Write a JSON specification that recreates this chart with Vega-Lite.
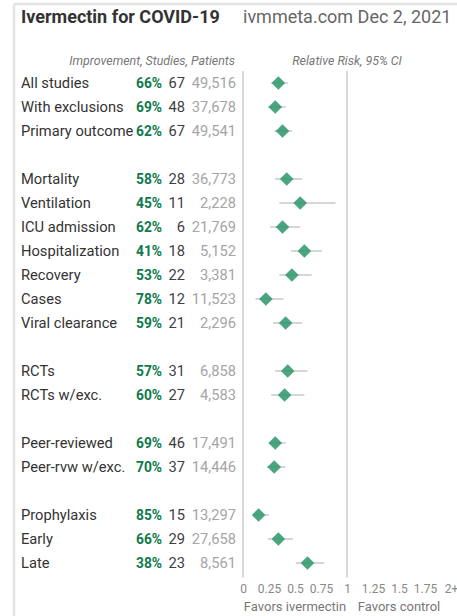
{
  "$schema": "https://vega.github.io/schema/vega-lite/v6.json",
  "width": 208,
  "height": 504,
  "autosize": {"type": "none"},
  "padding": {"left": 243, "top": 71, "right": 6, "bottom": 41},
  "background": "white",
  "config": {
    "view": {"stroke": null},
    "font": "Roboto",
    "axisX": {"grid": false, "domain": false, "ticks": false, "tickSize": 0, "labelPadding": 8, "labelFont": "Roboto", "labelFontSize": 12, "labelColor": "#888888", "labelFlush": false, "labelOverlap": false, "labelBound": false, "title": null}
  },
  "data": {
    "values": [
      {"label": "All studies", "pct": "66%", "studies": 67, "patients": 49516, "rr": 0.34, "lo": 0.27, "hi": 0.43, "row": 0},
      {"label": "With exclusions", "pct": "69%", "studies": 48, "patients": 37678, "rr": 0.31, "lo": 0.24, "hi": 0.41, "row": 1},
      {"label": "Primary outcome", "pct": "62%", "studies": 67, "patients": 49541, "rr": 0.38, "lo": 0.30, "hi": 0.47, "row": 2},
      {"label": "Mortality", "pct": "58%", "studies": 28, "patients": 36773, "rr": 0.42, "lo": 0.31, "hi": 0.57, "row": 4},
      {"label": "Ventilation", "pct": "45%", "studies": 11, "patients": 2228, "rr": 0.55, "lo": 0.35, "hi": 0.89, "row": 5},
      {"label": "ICU admission", "pct": "62%", "studies": 6, "patients": 21769, "rr": 0.38, "lo": 0.26, "hi": 0.55, "row": 6},
      {"label": "Hospitalization", "pct": "41%", "studies": 18, "patients": 5152, "rr": 0.59, "lo": 0.46, "hi": 0.76, "row": 7},
      {"label": "Recovery", "pct": "53%", "studies": 22, "patients": 3381, "rr": 0.47, "lo": 0.35, "hi": 0.66, "row": 8},
      {"label": "Cases", "pct": "78%", "studies": 12, "patients": 11523, "rr": 0.22, "lo": 0.12, "hi": 0.39, "row": 9},
      {"label": "Viral clearance", "pct": "59%", "studies": 21, "patients": 2296, "rr": 0.41, "lo": 0.29, "hi": 0.57, "row": 10},
      {"label": "RCTs", "pct": "57%", "studies": 31, "patients": 6858, "rr": 0.43, "lo": 0.31, "hi": 0.62, "row": 12},
      {"label": "RCTs w/exc.", "pct": "60%", "studies": 27, "patients": 4583, "rr": 0.40, "lo": 0.27, "hi": 0.59, "row": 13},
      {"label": "Peer-reviewed", "pct": "69%", "studies": 46, "patients": 17491, "rr": 0.31, "lo": 0.25, "hi": 0.41, "row": 15},
      {"label": "Peer-rvw w/exc.", "pct": "70%", "studies": 37, "patients": 14446, "rr": 0.30, "lo": 0.23, "hi": 0.41, "row": 16},
      {"label": "Prophylaxis", "pct": "85%", "studies": 15, "patients": 13297, "rr": 0.15, "lo": 0.10, "hi": 0.25, "row": 18},
      {"label": "Early", "pct": "66%", "studies": 29, "patients": 27658, "rr": 0.34, "lo": 0.24, "hi": 0.48, "row": 19},
      {"label": "Late", "pct": "38%", "studies": 23, "patients": 8561, "rr": 0.62, "lo": 0.51, "hi": 0.78, "row": 20}
    ]
  },
  "layer": [
    {
      "mark": {"type": "rule", "color": "#cccccc", "strokeWidth": 1.5},
      "data": {"values": [{"v": 0}, {"v": 1}]},
      "encoding": {
        "x": {"field": "v", "type": "quantitative", "scale": {"domain": [0, 2], "nice": false, "zero": false},
          "axis": {"values": [0, 0.25, 0.5, 0.75, 1, 1.25, 1.5, 1.75, 2], "labelExpr": "datum.value == 2 ? '2+' : '' + datum.value", "labelOverlap": false}},
        "y": {"datum": -0.5, "type": "quantitative", "scale": {"domain": [-0.5, 20.5], "reverse": true, "nice": false, "zero": false}, "axis": null},
        "y2": {"datum": 20.6}
      }
    },
    {
      "mark": {"type": "rule", "color": "#e2e2e2", "strokeWidth": 2.5},
      "data": {"values": [{"a": 1}]},
      "encoding": {
        "x": {"datum": -2.2019, "type": "quantitative", "axis": {"values": [0, 0.25, 0.5, 0.75, 1, 1.25, 1.5, 1.75, 2], "labelExpr": "datum.value == 2 ? '2+' : '' + datum.value", "labelOverlap": false}},
        "x2": {"datum": 2.2},
        "y": {"datum": -3.29, "type": "quantitative"}
      }
    },
    {
      "mark": {"type": "rule", "color": "#e2e2e2", "strokeWidth": 2.5},
      "data": {"values": [{"a": 1}]},
      "encoding": {
        "x": {"datum": -2.2019, "type": "quantitative", "axis": {"values": [0, 0.25, 0.5, 0.75, 1, 1.25, 1.5, 1.75, 2], "labelExpr": "datum.value == 2 ? '2+' : '' + datum.value", "labelOverlap": false}},
        "y": {"datum": -3.29, "type": "quantitative"},
        "y2": {"datum": 22.5}
      }
    },
    {
      "mark": {"type": "rule", "color": "#c8c8c8", "strokeWidth": 1.5},
      "encoding": {
        "x": {"field": "lo", "type": "quantitative", "axis": {"values": [0, 0.25, 0.5, 0.75, 1, 1.25, 1.5, 1.75, 2], "labelExpr": "datum.value == 2 ? '2+' : '' + datum.value", "labelOverlap": false}},
        "x2": {"field": "hi"},
        "y": {"field": "row", "type": "quantitative"}
      }
    },
    {
      "mark": {"type": "point", "shape": "diamond", "filled": true, "size": 185, "color": "#329870", "opacity": 0.88},
      "encoding": {
        "x": {"field": "rr", "type": "quantitative", "axis": {"values": [0, 0.25, 0.5, 0.75, 1, 1.25, 1.5, 1.75, 2], "labelExpr": "datum.value == 2 ? '2+' : '' + datum.value", "labelOverlap": false}},
        "y": {"field": "row", "type": "quantitative"}
      }
    },
    {
      "mark": {"type": "text", "align": "left", "baseline": "middle", "dy": 1, "font": "Roboto", "fontSize": 14.7, "color": "#333333"},
      "encoding": {"x": {"datum": -2.1346, "type": "quantitative", "axis": {"values": [0, 0.25, 0.5, 0.75, 1, 1.25, 1.5, 1.75, 2], "labelExpr": "datum.value == 2 ? '2+' : '' + datum.value", "labelOverlap": false}}, "y": {"field": "row", "type": "quantitative"}, "text": {"field": "label"}}
    },
    {
      "mark": {"type": "text", "align": "right", "baseline": "middle", "dy": 1, "font": "Roboto", "fontSize": 13.8, "fontWeight": "bold", "color": "#0f7a4a"},
      "encoding": {"x": {"datum": -0.7788, "type": "quantitative", "axis": {"values": [0, 0.25, 0.5, 0.75, 1, 1.25, 1.5, 1.75, 2], "labelExpr": "datum.value == 2 ? '2+' : '' + datum.value", "labelOverlap": false}}, "y": {"field": "row", "type": "quantitative"}, "text": {"field": "pct"}}
    },
    {
      "mark": {"type": "text", "align": "right", "baseline": "middle", "dy": 1, "font": "Roboto", "fontSize": 14.7, "color": "#404040"},
      "encoding": {"x": {"datum": -0.5577, "type": "quantitative", "axis": {"values": [0, 0.25, 0.5, 0.75, 1, 1.25, 1.5, 1.75, 2], "labelExpr": "datum.value == 2 ? '2+' : '' + datum.value", "labelOverlap": false}}, "y": {"field": "row", "type": "quantitative"}, "text": {"field": "studies"}}
    },
    {
      "mark": {"type": "text", "align": "right", "baseline": "middle", "dy": 1, "font": "Roboto", "fontSize": 14.7, "color": "#a5a5a5"},
      "encoding": {"x": {"datum": -0.0673, "type": "quantitative", "axis": {"values": [0, 0.25, 0.5, 0.75, 1, 1.25, 1.5, 1.75, 2], "labelExpr": "datum.value == 2 ? '2+' : '' + datum.value", "labelOverlap": false}}, "y": {"field": "row", "type": "quantitative"}, "text": {"field": "patients", "format": ",d"}}
    },
    {
      "mark": {"type": "text", "align": "left", "baseline": "middle", "dy": 1, "font": "Roboto", "fontSize": 18, "fontWeight": "bold", "color": "#333333"},
      "data": {"values": [{"t": "Ivermectin for COVID-19"}]},
      "encoding": {"x": {"datum": -2.1346, "type": "quantitative", "axis": {"values": [0, 0.25, 0.5, 0.75, 1, 1.25, 1.5, 1.75, 2], "labelExpr": "datum.value == 2 ? '2+' : '' + datum.value", "labelOverlap": false}}, "y": {"datum": -2.75, "type": "quantitative"}, "text": {"field": "t"}}
    },
    {
      "mark": {"type": "text", "align": "left", "baseline": "middle", "dy": 1, "font": "Roboto", "fontSize": 18, "color": "#666666"},
      "data": {"values": [{"t": "ivmmeta.com Dec 2, 2021"}]},
      "encoding": {"x": {"datum": 0, "type": "quantitative", "axis": {"values": [0, 0.25, 0.5, 0.75, 1, 1.25, 1.5, 1.75, 2], "labelExpr": "datum.value == 2 ? '2+' : '' + datum.value", "labelOverlap": false}}, "y": {"datum": -2.75, "type": "quantitative"}, "text": {"field": "t"}}
    },
    {
      "mark": {"type": "text", "align": "right", "baseline": "middle", "dy": 1, "font": "Roboto", "fontSize": 12.4, "fontStyle": "italic", "color": "#777777"},
      "data": {"values": [{"t": "Improvement, Studies, Patients"}]},
      "encoding": {"x": {"datum": -0.077, "type": "quantitative", "axis": {"values": [0, 0.25, 0.5, 0.75, 1, 1.25, 1.5, 1.75, 2], "labelExpr": "datum.value == 2 ? '2+' : '' + datum.value", "labelOverlap": false}}, "y": {"datum": -0.96, "type": "quantitative"}, "text": {"field": "t"}}
    },
    {
      "mark": {"type": "text", "align": "center", "baseline": "middle", "dy": 1, "font": "Roboto", "fontSize": 12.4, "fontStyle": "italic", "color": "#777777"},
      "data": {"values": [{"t": "Relative Risk, 95% CI"}]},
      "encoding": {"x": {"datum": 1.0, "type": "quantitative", "axis": {"values": [0, 0.25, 0.5, 0.75, 1, 1.25, 1.5, 1.75, 2], "labelExpr": "datum.value == 2 ? '2+' : '' + datum.value", "labelOverlap": false}}, "y": {"datum": -0.96, "type": "quantitative"}, "text": {"field": "t"}}
    },
    {
      "mark": {"type": "text", "align": "center", "baseline": "middle", "dy": 1, "font": "Roboto", "fontSize": 13, "color": "#777777"},
      "data": {"values": [{"t": "Favors ivermectin", "xv": 0.5}, {"t": "Favors control", "xv": 1.5}]},
      "encoding": {"x": {"field": "xv", "type": "quantitative", "axis": {"values": [0, 0.25, 0.5, 0.75, 1, 1.25, 1.5, 1.75, 2], "labelExpr": "datum.value == 2 ? '2+' : '' + datum.value", "labelOverlap": false}}, "y": {"datum": 21.79, "type": "quantitative"}, "text": {"field": "t"}}
    }
  ]
}
